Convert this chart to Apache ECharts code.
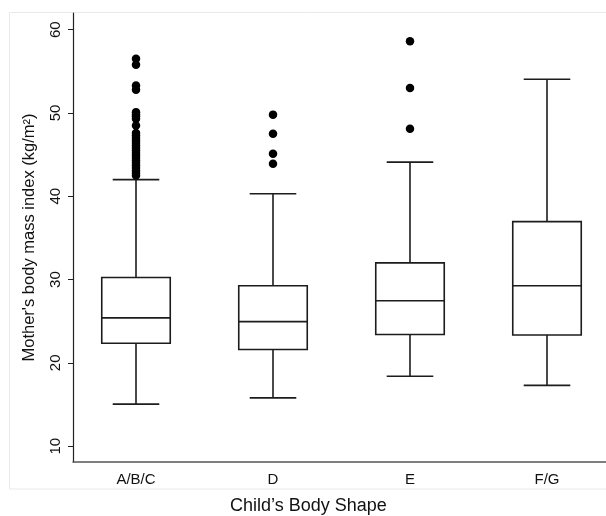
<!DOCTYPE html>
<html>
<head>
<meta charset="utf-8">
<script src="https://cdn.jsdelivr.net/npm/echarts@6/dist/echarts.min.js"></script>
<style>html,body{margin:0;padding:0;background:#fff;}#c{width:606px;height:516px;}</style>
</head>
<body>
<div id="c"></div>
<script>
const categories = ['A/B/C', 'D', 'E', 'F/G'];
// [lower whisker, Q1, median, Q3, upper whisker]
const boxLow    = [15.05, 15.8, 18.4, 17.3];
const boxQ1     = [22.35, 21.6, 23.4, 23.35];
const boxMedian = [25.4, 24.95, 27.45, 29.25];
const boxQ3     = [30.25, 29.25, 32.0, 36.95];
const boxHigh   = [42.0, 40.3, 44.1, 54.05];
const outliersABC = [56.5, 55.8, 53.3, 52.8, 50.1, 49.8, 49.6, 49.3, 48.5, 47.6, 47.3, 47.0, 46.7, 46.4, 46.1, 45.8, 45.5, 45.2, 44.9, 44.6, 44.3, 44.0, 43.7, 43.4, 43.1, 42.8, 42.5];
const outliersD = [49.8, 47.5, 45.1, 43.9];
const outliersE = [58.6, 53.0, 48.1];
const outliersFG = [];
const yTicks = [10, 20, 30, 40, 50, 60];

const yMin = 8.1, yMax = 62.0;
const boxData = categories.map((c, i) => [i, boxLow[i], boxQ1[i], boxMedian[i], boxQ3[i], boxHigh[i]]);
const outlierData = [];
[outliersABC, outliersD, outliersE, outliersFG].forEach((arr, i) => arr.forEach(v => outlierData.push([i, v])));

const font = 'Liberation Sans, Arial, sans-serif';
const lineColor = '#1c1c1c';

const chart = echarts.init(document.getElementById('c'), null, {renderer: 'canvas'});
chart.setOption({
  animation: false,
  backgroundColor: '#ffffff',
  graphic: [{
    type: 'rect', silent: true, z: -10,
    shape: {x: 9.5, y: 12.5, width: 610, height: 476.5},
    style: {fill: 'none', stroke: '#e6ebe8', lineWidth: 1}
  }],
  title: {
    text: "Child’s Body Shape",
    left: 230, top: 497, padding: 0,
    textStyle: {fontFamily: font, fontSize: 18, fontWeight: 'normal', color: '#111'}
  },
  grid: [
    {left: 67.5, width: 548, top: 13, bottom: 54, outerBoundsMode: 'none', containLabel: false},
    {left: 73, right: 0, top: 13, bottom: 54, outerBoundsMode: 'none', containLabel: false}
  ],
  xAxis: [
    {
      gridIndex: 0, type: 'category', data: categories, boundaryGap: true,
      axisLine: {show: false}, axisTick: {show: false}, splitLine: {show: false},
      axisLabel: {margin: 10, fontFamily: font, fontSize: 15, color: '#111'}
    },
    {
      gridIndex: 1, type: 'value', min: 0, max: 1,
      axisLine: {show: true, onZero: false, lineStyle: {color: '#555', width: 1.5}},
      axisTick: {show: false}, axisLabel: {show: false}, splitLine: {show: false}
    }
  ],
  yAxis: [
    {
      gridIndex: 0, type: 'value', min: yMin, max: yMax,
      axisLine: {show: false}, axisTick: {show: false}, axisLabel: {show: false}, splitLine: {show: false}
    },
    {
      gridIndex: 1, type: 'value', min: yMin, max: yMax,
      name: "Mother's body mass index (kg/m²)", nameLocation: 'middle', nameGap: 35,
      nameTextStyle: {fontFamily: font, fontSize: 16.5, color: '#111'},
      axisLine: {show: true, onZero: false, lineStyle: {color: '#222', width: 1.2}},
      axisTick: {show: true, length: 5, lineStyle: {color: '#222', width: 1}, customValues: yTicks},
      axisLabel: {rotate: 90, margin: 10, fontFamily: font, fontSize: 15, color: '#111', customValues: yTicks},
      splitLine: {show: false}
    }
  ],
  series: [
    {
      type: 'custom', xAxisIndex: 0, yAxisIndex: 0, data: boxData, clip: false,
      renderItem: function (params, api) {
        const i = api.value(0);
        const band = api.size([1, 0])[0];
        const bw = band * 0.5, cw = band * 0.34;
        const pLow = api.coord([i, api.value(1)]);
        const pQ1 = api.coord([i, api.value(2)]);
        const pMed = api.coord([i, api.value(3)]);
        const pQ3 = api.coord([i, api.value(4)]);
        const pHigh = api.coord([i, api.value(5)]);
        const x = pMed[0];
        const st = {stroke: lineColor, lineWidth: 1.6, fill: null};
        return {
          type: 'group',
          children: [
            {type: 'line', shape: {x1: x, y1: pHigh[1], x2: x, y2: pQ3[1]}, style: st},
            {type: 'line', shape: {x1: x, y1: pQ1[1], x2: x, y2: pLow[1]}, style: st},
            {type: 'line', shape: {x1: x - cw / 2, y1: pHigh[1], x2: x + cw / 2, y2: pHigh[1]}, style: st},
            {type: 'line', shape: {x1: x - cw / 2, y1: pLow[1], x2: x + cw / 2, y2: pLow[1]}, style: st},
            {type: 'rect', shape: {x: x - bw / 2, y: pQ3[1], width: bw, height: pQ1[1] - pQ3[1]}, style: {stroke: lineColor, lineWidth: 1.6, fill: '#fff'}},
            {type: 'line', shape: {x1: x - bw / 2, y1: pMed[1], x2: x + bw / 2, y2: pMed[1]}, style: st}
          ]
        };
      }
    },
    {
      type: 'scatter', xAxisIndex: 0, yAxisIndex: 0, data: outlierData,
      symbol: 'circle', symbolSize: 8.5,
      itemStyle: {color: '#000', opacity: 1}
    }
  ]
});
</script>
</body>
</html>
